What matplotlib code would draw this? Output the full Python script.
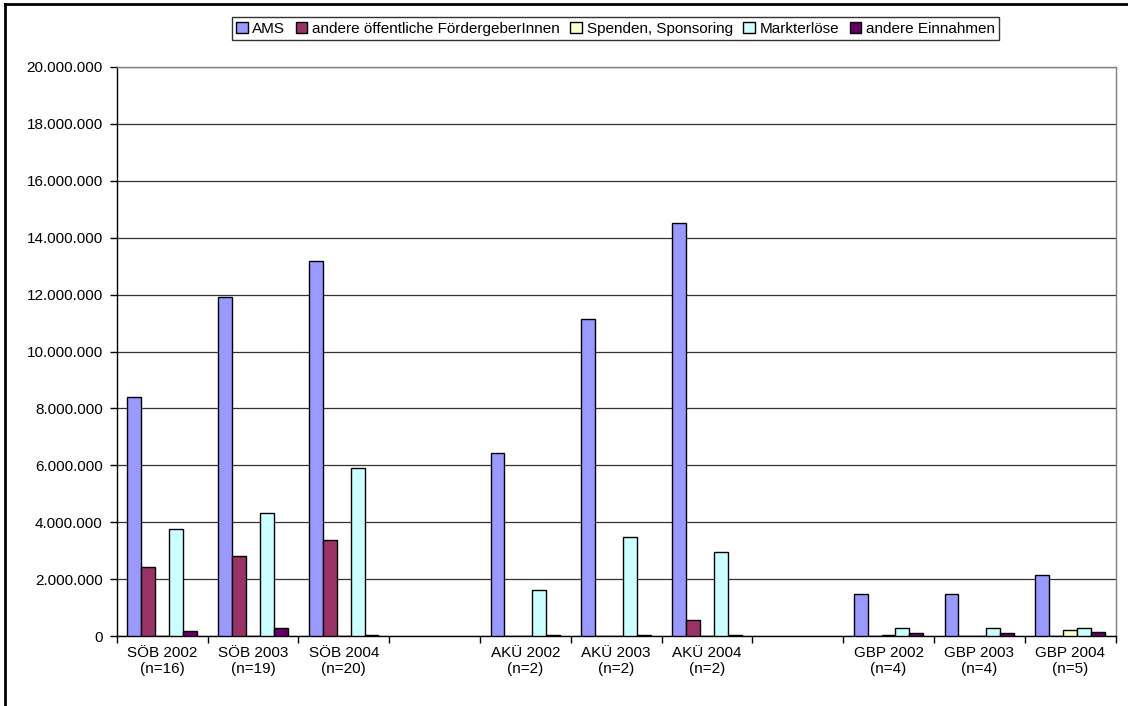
import matplotlib
matplotlib.use("Agg")
import matplotlib.pyplot as plt
import numpy as np
from matplotlib.ticker import FuncFormatter, FixedLocator
from matplotlib.lines import Line2D

plt.rcParams["font.family"] = ["Liberation Sans", "DejaVu Sans"]

nan = np.nan
categories = ["SÖB 2002\n(n=16)", "SÖB 2003\n(n=19)", "SÖB 2004\n(n=20)", "",
              "AKÜ 2002\n(n=2)", "AKÜ 2003\n(n=2)", "AKÜ 2004\n(n=2)", "",
              "GBP 2002\n(n=4)", "GBP 2003\n(n=4)", "GBP 2004\n(n=5)"]

# values in euro
ams = [8410000, 11930000, 13180000, nan, 6430000, 11140000, 14530000, nan, 1480000, 1490000, 2130000]
oeffentlich = [2440000, 2820000, 3380000, nan, 0, 0, 550000, nan, 10000, 0, 0]
spenden = [10000, 0, 5000, nan, 0, 0, 0, nan, 20000, 0, 210000]
markt = [3750000, 4320000, 5900000, nan, 1620000, 3470000, 2960000, nan, 270000, 270000, 280000]
andere = [180000, 280000, 40000, nan, 30000, 20000, 50000, nan, 90000, 90000, 140000]

series = [
    ("AMS", ams, "#9999FF"),
    ("andere öffentliche FördergeberInnen", oeffentlich, "#993366"),
    ("Spenden, Sponsoring", spenden, "#FFFFCC"),
    ("Markterlöse", markt, "#CCFFFF"),
    ("andere Einnahmen", andere, "#660066"),
]

W, H = 1128, 706
fig = plt.figure(figsize=(W / 100, H / 100), dpi=100)
ax = fig.add_axes([116.7 / W, (H - 636) / H, 998.8 / W, 569 / H])

x = np.arange(len(categories))
bw = 0.153
for i, (name, vals, col) in enumerate(series):
    ax.bar(x + (i - 2) * bw, vals, bw, color=col, edgecolor="black",
           linewidth=1.0, label=name, zorder=3)

ax.set_xlim(-0.5, len(categories) - 0.5)
ax.set_ylim(0, 20000000)
ax.set_yticks(np.arange(0, 20000001, 2000000))
ax.yaxis.set_major_formatter(FuncFormatter(lambda v, p: f"{int(v):,}".replace(",", ".")))
ax.yaxis.grid(True, color="#333333", linewidth=0.9, zorder=0)

ax.set_xticks(x)
ax.set_xticklabels(categories)
ax.tick_params(axis="x", which="major", length=0, pad=7, labelsize=11)
ax.xaxis.set_minor_locator(FixedLocator(np.arange(-0.5, len(categories), 1.0)))
ax.tick_params(axis="x", which="minor", length=5, direction="out", width=1)
ax.tick_params(axis="y", length=5, direction="out", width=1, labelsize=11, pad=5)

ax.spines["left"].set_color("black")
ax.spines["bottom"].set_color("black")
ax.spines["top"].set_color("#808080")
ax.spines["right"].set_color("#808080")
for s in ax.spines.values():
    s.set_linewidth(1.0)

fig.legend(loc="upper center", bbox_to_anchor=(615.5 / W, 1 - 17 / H), ncol=5,
           fontsize=11, frameon=True, fancybox=False, edgecolor="black",
           handlelength=0.75, handleheight=0.75, handletextpad=0.3,
           columnspacing=0.7, borderpad=0.3, borderaxespad=0)

# outer frame (left and top edges only)
fig.add_artist(Line2D([5 / W, 5 / W], [0, 1 - 4 / H], color="black", lw=2, transform=fig.transFigure))
fig.add_artist(Line2D([5 / W, 1], [1 - 4 / H, 1 - 4 / H], color="black", lw=2, transform=fig.transFigure))

fig.savefig("out.png", dpi=100)
